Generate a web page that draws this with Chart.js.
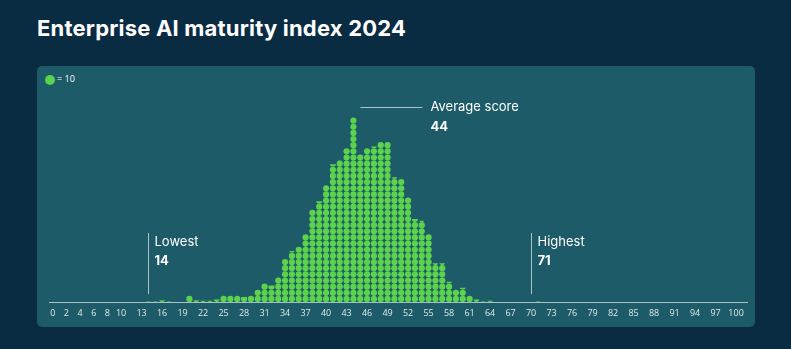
<!DOCTYPE html>
<html>
<head>
<meta charset="utf-8">
<script src="https://cdn.jsdelivr.net/npm/chart.js@4"></script>
<style>
  body { margin: 0; width: 791px; height: 349px; background: #0a2c42; overflow: hidden; font-family: Inter, sans-serif; }
  #title { position: absolute; left: 37px; top: 15px; color: #fff; font-weight: 700; font-size: 22px; letter-spacing: 0.2px; white-space: nowrap; }
  #panel { position: absolute; left: 37px; top: 66px; width: 718px; height: 261px; background: #1c5b67; border-radius: 5px; }
  #legend { position: absolute; left: 45px; top: 73px; color: #fff; font-size: 9px; font-family: "Open Sans", sans-serif; line-height: 11px; }
  #legend span { display: inline-block; width: 10px; height: 10px; border-radius: 50%; background: #5dd24c; vertical-align: middle; margin-right: 2px; }
  #wrap { position: absolute; left: 0; top: 0; width: 791px; height: 349px; }
</style>
</head>
<body>
<div id="title">Enterprise AI maturity index 2024</div>
<div id="panel"></div>
<div id="legend"><span></span>= 10</div>
<div id="wrap"><canvas id="dots" width="791" height="349"></canvas></div>
<script>
// score on the index, and how many respondents got it (one dot = 10)
const scores = [14, 15, 16, 17, 18, 19, 20, 21, 22, 23, 24, 25, 26, 27, 28, 29, 30, 31, 32, 33,
  34, 35, 36, 37, 38, 39, 40, 41, 42, 43, 44, 45, 46, 47, 48, 49, 50, 51, 52, 53,
  54, 55, 56, 57, 58, 59, 60, 61, 62, 63, 64, 65, 66, 67, 68, 69, 70, 71];
const respondents = [1, 1, 3, 1, 0, 0, 10, 3, 2, 2, 4, 10, 10, 10, 8, 10, 20, 30, 27, 40,
  70, 83, 90, 110, 150, 164, 190, 224, 231, 250, 300, 240, 250, 253, 260, 260, 203, 200, 170, 135,
  132, 110, 63, 63, 33, 20, 23, 10, 4, 1, 2, 0, 0, 0, 0, 0, 0, 1];
const dotValue = 10;
const tickValues = [0, 2, 4, 6, 8, 10, 13, 16, 19, 22, 25, 28, 31, 34, 37, 40, 43, 46, 49, 52,
  55, 58, 61, 64, 67, 70, 73, 76, 79, 82, 85, 88, 91, 94, 97, 100];

const lowest = 14;
const highest = 71;
const highestLine = 70; // the marker in the original sits on the 70 tick
const average = 44;

const green = '#5dd24c';
const dotR = 3.1;

// one point per whole dot
const points = [];
scores.forEach((s, i) => {
  const n = Math.floor(respondents[i] / dotValue);
  for (let k = 0; k < n; k++) points.push({ x: s, y: k + 0.5 });
});

// partial dot on top of each column, filled from the bottom
const partialDots = {
  id: 'partialDots',
  afterDatasetsDraw(chart) {
    const ctx = chart.ctx;
    const xs = chart.scales.x, ys = chart.scales.y;
    ctx.save();
    ctx.fillStyle = green;
    scores.forEach((s, i) => {
      const v = respondents[i] / dotValue;
      const full = Math.floor(v);
      const frac = v - full;
      if (frac <= 0) return;
      const cx = xs.getPixelForValue(s);
      const cy = ys.getPixelForValue(full + 0.5);
      const h = 2 * dotR * frac;
      ctx.save();
      ctx.beginPath();
      ctx.rect(cx - dotR - 1, cy + dotR - h, 2 * dotR + 2, h);
      ctx.clip();
      ctx.beginPath();
      ctx.arc(cx, cy, dotR, 0, Math.PI * 2);
      ctx.fill();
      ctx.restore();
    });
    ctx.restore();
  }
};

const markers = {
  id: 'markers',
  afterDraw(chart) {
    const ctx = chart.ctx;
    const xs = chart.scales.x;
    ctx.save();
    ctx.strokeStyle = '#a9c3c8';
    ctx.lineWidth = 1;
    ctx.fillStyle = '#ffffff';
    ctx.textBaseline = 'middle';

    [[lowest, lowest], [highestLine, highest]].forEach(([pos, val], i) => {
      const x = Math.round(xs.getPixelForValue(pos)) + 0.5;
      ctx.beginPath();
      ctx.moveTo(x, 233);
      ctx.lineTo(x, 294);
      ctx.stroke();
      ctx.font = '400 13px Inter';
      ctx.fillText(i === 0 ? 'Lowest' : 'Highest', x + 6, 242);
      ctx.font = '700 13px Inter';
      ctx.fillText(String(val), x + 6, 261);
    });

    const ax = xs.getPixelForValue(average);
    ctx.beginPath();
    ctx.moveTo(ax + 7, 107.5);
    ctx.lineTo(ax + 69, 107.5);
    ctx.stroke();
    ctx.font = '400 13px Inter';
    ctx.fillText('Average score', ax + 77, 107);
    ctx.font = '700 13px Inter';
    ctx.fillText(String(average), ax + 77, 127);
    ctx.restore();
  }
};

new Chart(document.getElementById('dots'), {
  type: 'scatter',
  data: {
    datasets: [{
      data: points,
      backgroundColor: green,
      borderWidth: 0,
      pointRadius: dotR,
      pointHoverRadius: dotR
    }]
  },
  options: {
    responsive: false,
    animation: false,
    layout: { padding: { left: 49, right: 44, top: 112, bottom: 0 } },
    plugins: { legend: { display: false }, tooltip: { enabled: false } },
    scales: {
      x: {
        type: 'linear',
        min: -0.55,
        max: 101.6,
        afterBuildTicks: scale => { scale.ticks = tickValues.map(v => ({ value: v })); },
        afterFit: scale => { scale.height = 47; },
        grid: { display: false, drawTicks: false },
        border: { display: true, color: '#a9c3c8', width: 1 },
        ticks: {
          autoSkip: false,
          maxRotation: 0,
          padding: 6,
          color: '#dfe8ea',
          font: { family: 'Open Sans', size: 9 }
        }
      },
      y: {
        display: false,
        min: 0,
        max: 30.9
      }
    }
  },
  plugins: [partialDots, markers]
});
</script>
</body>
</html>
